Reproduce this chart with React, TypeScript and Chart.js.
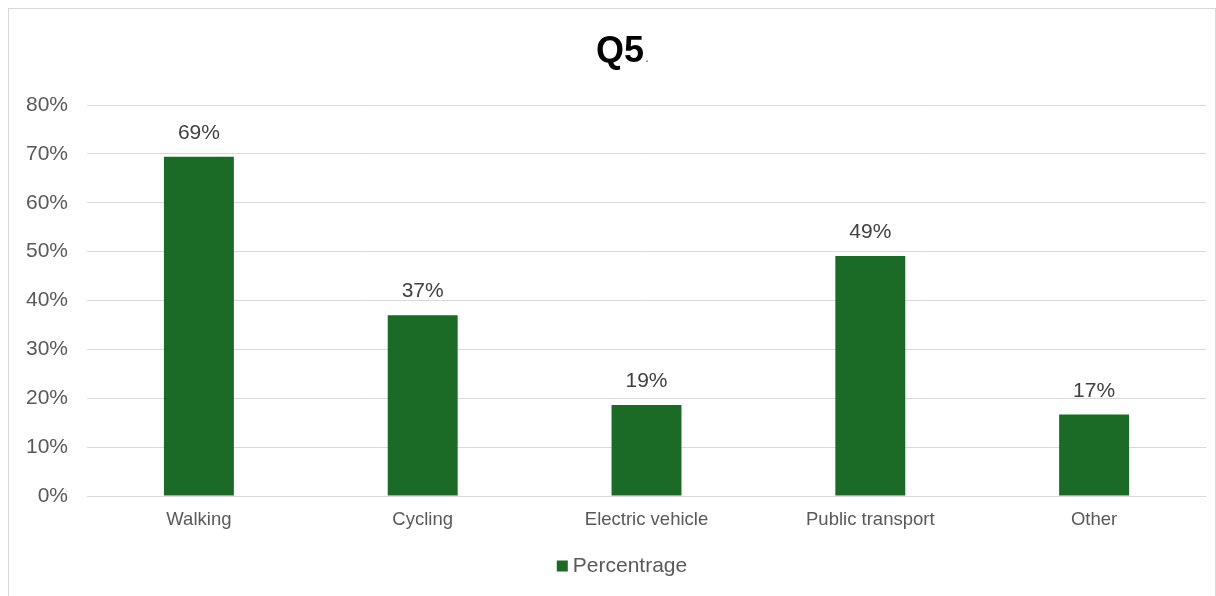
import React, { useEffect, useRef } from 'react';
import { Chart, registerables } from 'chart.js';

Chart.register(...registerables);

const categories = ['Walking', 'Cycling', 'Electric vehicle', 'Public transport', 'Other'];
const percentages = [69.4, 37.0, 18.6, 49.1, 16.7];
const dataLabels = ['69%', '37%', '19%', '49%', '17%'];
const yMin = 0;
const yMax = 80;
const yStep = 10;
const seriesName = 'Percentrage';
const titleMain = 'Q5';
const titleSuffix = '.';

const FONT = '"Liberation Sans", Arial, Helvetica, sans-serif';
const BAR_COLOR = '#1B6B26';
const AXIS_TEXT = '#595959';
const LABEL_TEXT = '#404040';
const GRID = '#D9D9D9';

const overlayPlugin = {
  id: 'overlay',
  afterDatasetsDraw(chart: any) {
    const ctx = chart.ctx;
    const meta = chart.getDatasetMeta(0);
    ctx.save();
    // data labels
    ctx.font = `21px ${FONT}`;
    ctx.fillStyle = LABEL_TEXT;
    ctx.textAlign = 'center';
    ctx.textBaseline = 'middle';
    meta.data.forEach((bar: any, i: number) => {
      ctx.fillText(dataLabels[i], bar.x, bar.y - 23.5);
    });

    // title
    const center = chart.width / 2 + 10;
    ctx.textAlign = 'left';
    ctx.textBaseline = 'alphabetic';
    ctx.font = `bold 36px ${FONT}`;
    const w1 = ctx.measureText(titleMain).width;
    ctx.font = `14px ${FONT}`;
    const w2 = ctx.measureText(titleSuffix).width;
    const sx = center - (w1 + w2) / 2;
    ctx.font = `bold 36px ${FONT}`;
    ctx.fillStyle = '#000000';
    ctx.fillText(titleMain, sx, 53);
    ctx.font = `14px ${FONT}`;
    ctx.fillStyle = AXIS_TEXT;
    ctx.fillText(titleSuffix, sx + w1 + 1, 53);

    // legend
    ctx.font = `21px ${FONT}`;
    const tw = ctx.measureText(seriesName).width;
    const box = 11;
    const gap = 5;
    const lx = center - (box + gap + tw) / 2;
    const ly = chart.chartArea.bottom + 70;
    ctx.fillStyle = BAR_COLOR;
    ctx.fillRect(lx, ly - box / 2, box, box);
    ctx.fillStyle = AXIS_TEXT;
    ctx.textBaseline = 'middle';
    ctx.fillText(seriesName, lx + box + gap, ly);
    ctx.restore();
  },
};

export default function App() {
  const canvasRef = useRef<HTMLCanvasElement | null>(null);

  useEffect(() => {
    if (!canvasRef.current) return;
    const chart = new Chart(canvasRef.current, {
      type: 'bar',
      data: {
        labels: categories,
        datasets: [
          {
            label: seriesName,
            data: percentages,
            backgroundColor: BAR_COLOR,
            borderWidth: 0,
            categoryPercentage: 0.625,
            barPercentage: 0.5,
          },
        ],
      },
      options: {
        responsive: false,
        animation: false,
        devicePixelRatio: 1,
        layout: { padding: { left: 0, right: 9, top: 96, bottom: 60 } },
        plugins: {
          legend: { display: false },
          title: { display: false },
          tooltip: { enabled: false },
        },
        scales: {
          x: {
            grid: { display: false, drawTicks: false },
            border: { display: false },
            ticks: {
              color: AXIS_TEXT,
              font: { family: FONT, size: 18.5 },
              padding: 13,
              maxRotation: 0,
            },
            afterFit: (scale: any) => {
              scale.height = 40;
            },
          },
          y: {
            min: yMin,
            max: yMax,
            grid: { color: GRID, lineWidth: 1, drawTicks: false },
            border: { display: false },
            ticks: {
              stepSize: yStep,
              color: AXIS_TEXT,
              font: { family: FONT, size: 21 },
              padding: 19,
              callback: (v: any) => `${v}%`,
            },
            afterFit: (scale: any) => {
              scale.width = 78;
            },
          },
        },
      },
      plugins: [overlayPlugin],
    });
    return () => chart.destroy();
  }, []);

  return (
    <div
      style={{
        position: 'fixed',
        left: 0,
        top: 0,
        width: 1216,
        height: 596,
        overflow: 'hidden',
        background: '#ffffff',
      }}
    >
      <div
        style={{
          position: 'absolute',
          left: 8,
          top: 8,
          width: 1206,
          height: 620,
          border: '1px solid #D9D9D9',
          background: '#ffffff',
        }}
      >
        <canvas ref={canvasRef} width={1206} height={587} style={{ display: 'block' }} />
      </div>
    </div>
  );
}
